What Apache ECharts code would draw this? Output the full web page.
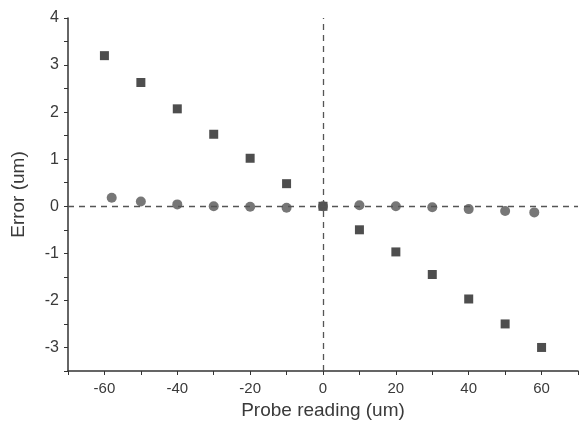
<!DOCTYPE html>
<html><head><meta charset="utf-8">
<script src="https://cdn.jsdelivr.net/npm/echarts@6/dist/echarts.min.js"></script>
<style>html,body{margin:0;padding:0;background:#fff}#c{width:581px;height:427px}</style>
</head><body><div id="c"></div>
<script>
const squareX = [-60,-50,-40,-30,-20,-10,0,10,20,30,40,50,60];
const squareY = [3.2,2.63,2.07,1.53,1.02,0.48,0,-0.5,-0.97,-1.45,-1.97,-2.5,-3.0];
const circleX = [-58,-50,-40,-30,-20,-10,0,10,20,30,40,50,58];
const circleY = [0.18,0.1,0.04,0.0,-0.01,-0.03,0,0.02,0.0,-0.02,-0.06,-0.1,-0.13];
const xLabels = [-60,-40,-20,0,20,40,60];
const yLabels = [-3,-2,-1,0,1,2,3,4];

const chart = echarts.init(document.getElementById('c'));
const txt = '#3a3a3a';
chart.setOption({
  animation:false,
  backgroundColor:'#fff',
  grid:{left:68,right:3,top:18,bottom:56},
  xAxis:{
    type:'value', min:-70, max:70, interval:10,
    name:'Probe reading (um)', nameLocation:'middle', nameGap:29,
    nameTextStyle:{fontFamily:'Liberation Sans',fontSize:19,color:txt},
    axisLine:{show:true,onZero:false,lineStyle:{color:'#333',width:1.5}},
    axisTick:{show:true,length:4,lineStyle:{color:'#333'}},
    axisLabel:{margin:10,fontFamily:'Liberation Sans',fontSize:15,color:txt,
      formatter:v=>xLabels.includes(Math.round(v))?String(Math.round(v)):''},
    splitLine:{show:false}
  },
  yAxis:{
    type:'value', min:-3.5, max:4, interval:0.5,
    name:'Error (um)', nameLocation:'middle', nameGap:40,
    nameTextStyle:{fontFamily:'Liberation Sans',fontSize:19,color:txt},
    axisLine:{show:true,onZero:false,lineStyle:{color:'#333',width:1.5}},
    axisTick:{show:true,length:4,lineStyle:{color:'#333'}},
    axisLabel:{margin:9,fontFamily:'Liberation Sans',fontSize:16,color:txt,
      formatter:v=>yLabels.includes(v)?String(v):''},
    splitLine:{show:false}
  },
  series:[
    {type:'scatter', symbol:'rect', symbolSize:9,
     itemStyle:{color:'#222'},
     data:squareX.map((x,i)=>[x,squareY[i]]),
     markLine:{silent:true,symbol:'none',label:{show:false},
       lineStyle:{type:[6,5],color:'#555',width:1.3},
       data:[{yAxis:0},{xAxis:0}]}},
    {type:'scatter', symbol:'circle', symbolSize:10,
     itemStyle:{color:'#555'},
     data:circleX.map((x,i)=>[x,circleY[i]])}
  ]
});
</script></body></html>
